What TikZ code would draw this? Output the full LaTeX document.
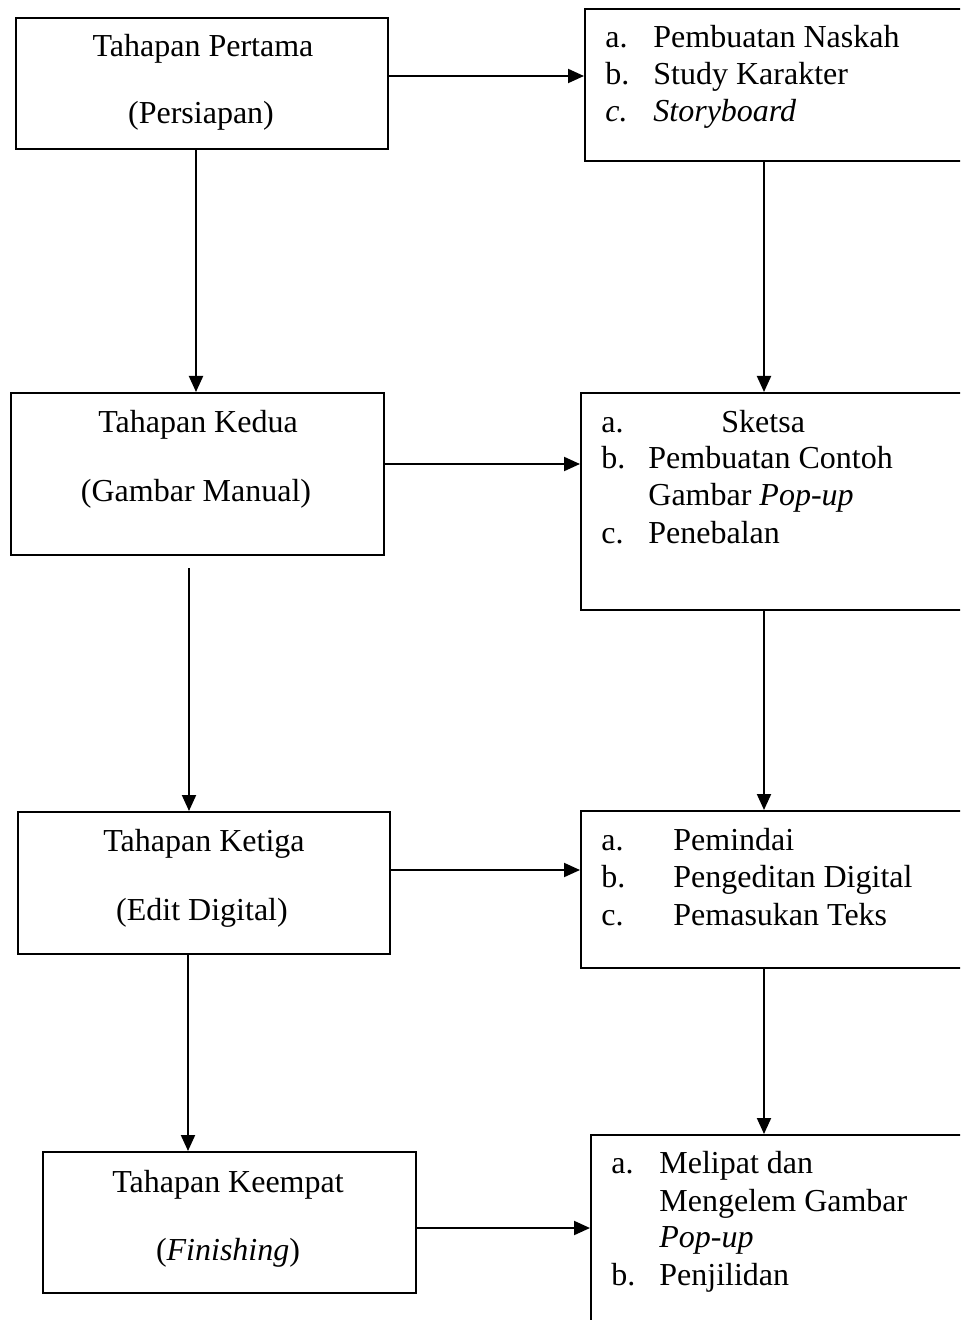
\documentclass[tikz,border=0pt]{standalone}
\usepackage{fontspec}
\setmainfont{Liberation Serif}
\usetikzlibrary{arrows.meta}
\begin{document}
\begin{tikzpicture}[x=0.5pt,y=-0.5pt,
  box/.style={draw,line width=1pt,inner sep=0pt,anchor=north west},
  txt/.style={inner sep=0pt,anchor=base,font=\fontsize{16}{18.5}\selectfont},
  lbl/.style={inner sep=0pt,anchor=base west,font=\fontsize{16}{18.5}\selectfont},
  arr/.style={line width=1pt,-{Triangle[length=8pt,width=7pt]}}]
\useasboundingbox (0,0) rectangle (960,1320);
\clip (0,0) rectangle (960,1320);
\fill[white] (0,0) rectangle (960,1320);
% boxes
\node[box,minimum width=186pt,minimum height=65.5pt] (b1) at (15,17) {};
\node[box,minimum width=200pt,minimum height=76pt] (r1) at (584,8) {};
\node[box,minimum width=186.5pt,minimum height=81pt] (b2) at (10,392) {};
\node[box,minimum width=202pt,minimum height=108.5pt] (r2) at (580,392) {};
\node[box,minimum width=186pt,minimum height=71pt] (b3) at (17,811) {};
\node[box,minimum width=202pt,minimum height=78.5pt] (r3) at (580,810) {};
\node[box,minimum width=186.5pt,minimum height=70.5pt] (b4) at (42,1151) {};
\node[box,minimum width=197pt,minimum height=110pt] (r4) at (590,1134) {};
% left texts
\node[txt] (b1a) at (203,57) {Tahapan Pertama};
\node[txt] (b1b) at (201,124) {(Persiapan)};
\node[txt] (b2a) at (198,432) {Tahapan Kedua};
\node[txt] (b2b) at (196,501) {(Gambar Manual)};
\node[txt] (b3a) at (204,851) {Tahapan Ketiga};
\node[txt] (b3b) at (202,920) {(Edit Digital)};
\node[txt] (b4a) at (228,1192) {Tahapan Keempat};
\node[txt] (b4b) at (228,1260) {(\textit{Finishing})};
% right texts
\node[lbl] (r1al) at (605,48) {a.};
\node[lbl] (r1at) at (653,48) {Pembuatan Naskah};
\node[lbl] (r1bl) at (605,85) {b.};
\node[lbl] (r1bt) at (653,85) {Study Karakter};
\node[lbl] (r1cl) at (605,122) {\textit{c.}};
\node[lbl] (r1ct) at (653,122) {\textit{Storyboard}};
\node[lbl] (r2al) at (601,432) {a.};
\node[lbl] (r2at) at (721,432) {Sketsa};
\node[lbl] (r2bl) at (601,468) {b.};
\node[lbl] (r2bt) at (648,468) {Pembuatan Contoh};
\node[lbl] (r2b2) at (648,505) {Gambar \textit{Pop-up}};
\node[lbl] (r2cl) at (601,543) {c.};
\node[lbl] (r2ct) at (648,543) {Penebalan};
\node[lbl] (r3al) at (601,850) {a.};
\node[lbl] (r3at) at (673,850) {Pemindai};
\node[lbl] (r3bl) at (601,887) {b.};
\node[lbl] (r3bt) at (673,887) {Pengeditan Digital};
\node[lbl] (r3cl) at (601,925) {c.};
\node[lbl] (r3ct) at (673,925) {Pemasukan Teks};
\node[lbl] (r4al) at (611,1173) {a.};
\node[lbl] (r4at) at (659,1173) {Melipat dan};
\node[lbl] (r4a2) at (659,1211) {Mengelem Gambar};
\node[lbl] (r4a3) at (659,1247) {\textit{Pop-up}};
\node[lbl] (r4bl) at (611,1285) {b.};
\node[lbl] (r4bt) at (659,1285) {Penjilidan};
% helper coordinates
\coordinate (y1) at (0,76);
\coordinate (y2) at (0,464);
\coordinate (y3) at (0,870);
\coordinate (y4) at (0,1228);
\coordinate (xr) at (764,0);
\coordinate (x1) at (196,0);
\coordinate (g2) at (189,568);
\coordinate (x3) at (188,0);
% connectors
\draw[arr] (b1.east |- y1) -- (r1.west |- y1);
\draw[arr] (b2.east |- y2) -- (r2.west |- y2);
\draw[arr] (b3.east |- y3) -- (r3.west |- y3);
\draw[arr] (b4.east |- y4) -- (r4.west |- y4);
\draw[arr] (b1.south -| x1) -- (b2.north -| x1);
\draw[arr] (g2) -- (b3.north -| g2);
\draw[arr] (b3.south -| x3) -- (b4.north -| x3);
\draw[arr] (r1.south -| xr) -- (r2.north -| xr);
\draw[arr] (r2.south -| xr) -- (r3.north -| xr);
\draw[arr] (r3.south -| xr) -- (r4.north -| xr);
\end{tikzpicture}
\end{document}
